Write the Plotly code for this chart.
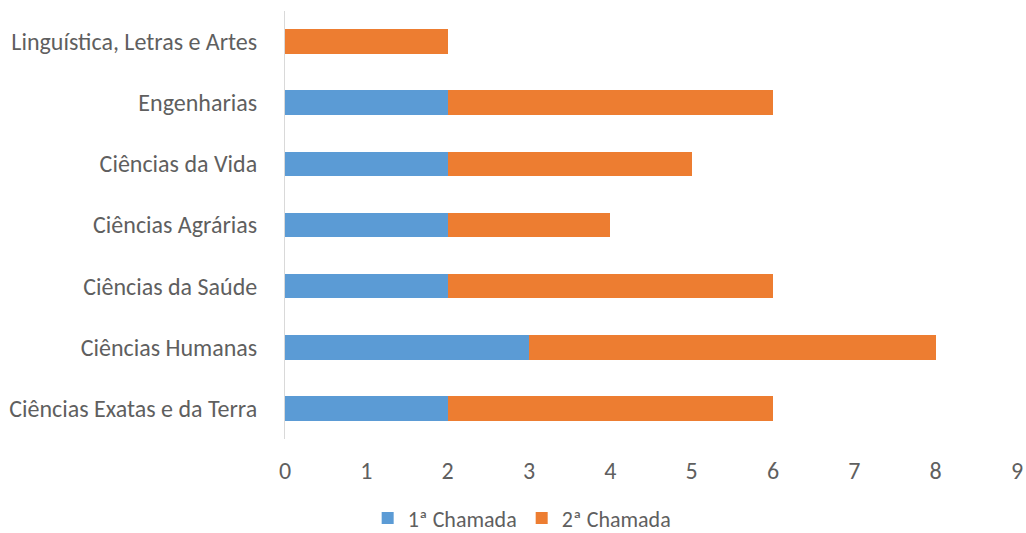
import plotly.graph_objects as go

categorias = [
    "Ciências Exatas e da Terra",
    "Ciências Humanas",
    "Ciências da Saúde",
    "Ciências Agrárias",
    "Ciências da Vida",
    "Engenharias",
    "Linguística, Letras e Artes",
]
primeira_chamada = [2, 3, 2, 2, 2, 2, 0]
segunda_chamada = [4, 5, 4, 2, 3, 4, 2]
x_ticks = list(range(0, 10))

fonte = dict(family="Carlito, Calibri, 'Open Sans', sans-serif", size=24, color="#5f5f5f")

fig = go.Figure()
fig.add_trace(go.Bar(
    y=categorias, x=primeira_chamada, orientation="h",
    name="1ª Chamada", marker=dict(color="#5B9BD5", line=dict(width=0)),
))
fig.add_trace(go.Bar(
    y=categorias, x=segunda_chamada, orientation="h",
    name="2ª Chamada", marker=dict(color="#ED7D31", line=dict(width=0)),
))

fig.update_layout(
    barmode="stack",
    bargap=0.6,
    width=1026, height=533,
    margin=dict(l=285, r=9, t=11, b=94, autoexpand=False),
    paper_bgcolor="white", plot_bgcolor="white",
    font=fonte,
    showlegend=True,
    legend=dict(orientation="h", x=0.324, xanchor="center", y=-0.185, yanchor="middle",
                font=dict(fonte, size=22), traceorder="normal", itemwidth=30,
                bgcolor="rgba(0,0,0,0)", maxheight=1),
    xaxis=dict(range=[0, 9], tickvals=x_ticks, showgrid=False, zeroline=False,
               showline=False, ticks="", ticklabelstandoff=15, automargin=False),
    yaxis=dict(showgrid=False, showline=True, linecolor="#D9D9D9", linewidth=1,
               ticks="", ticklabelstandoff=22, categoryorder="array",
               categoryarray=categorias, automargin=False),
)

fig.write_html("out.html")
